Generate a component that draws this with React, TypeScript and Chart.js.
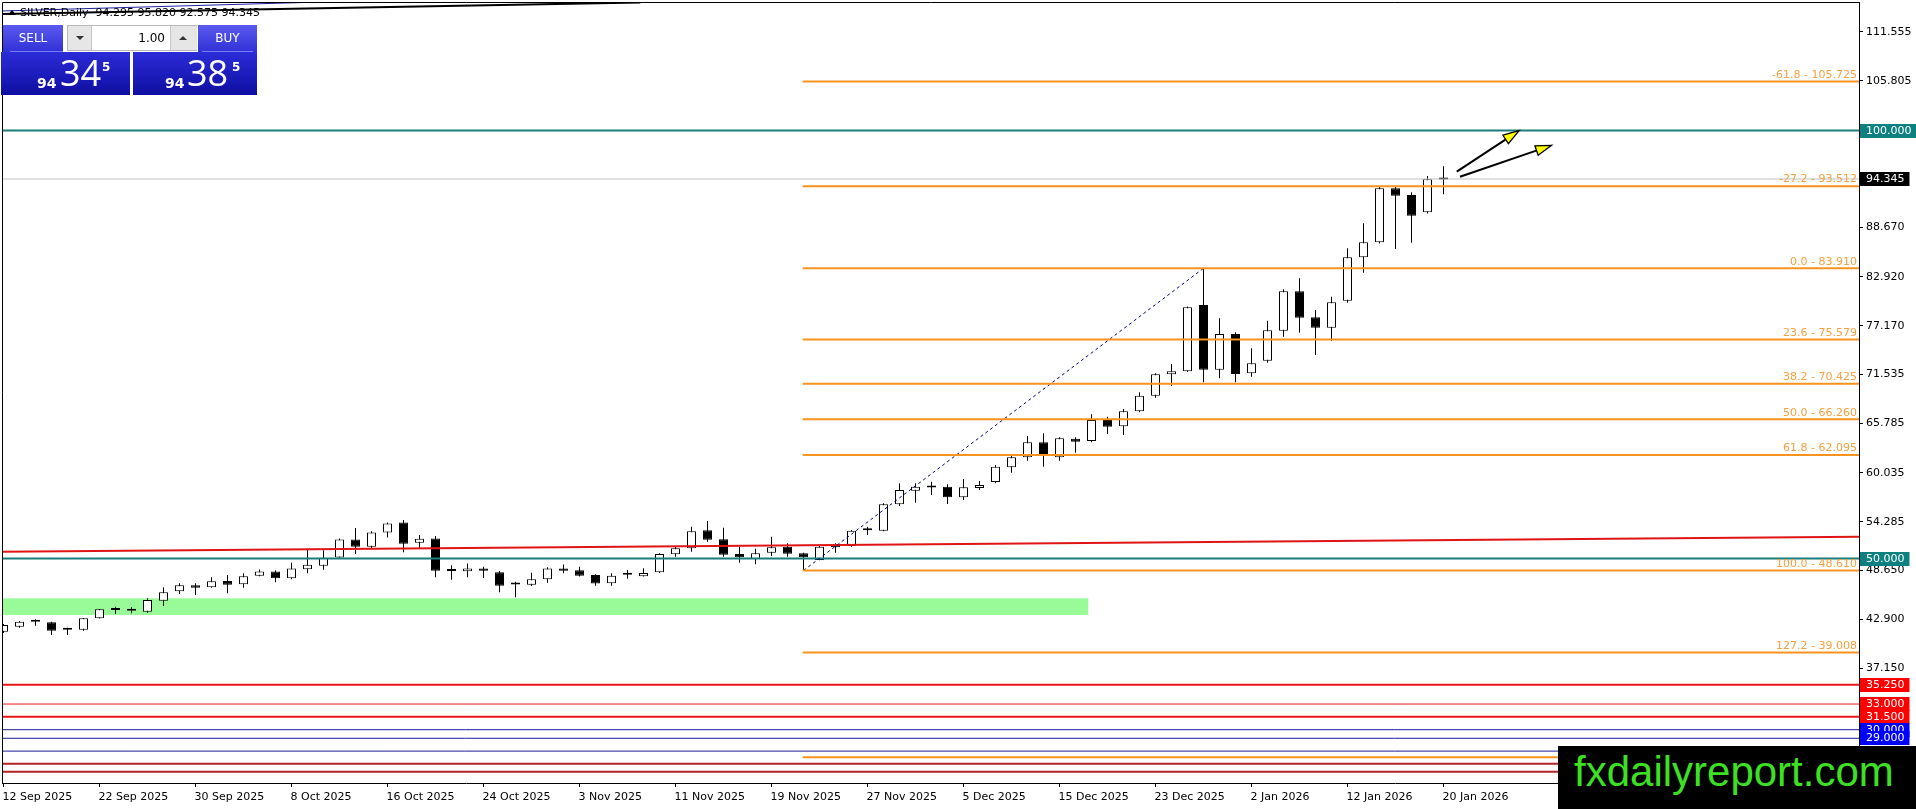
import React, { useEffect, useRef } from "react";
import { Chart, registerables } from "chart.js";

Chart.register(...registerables);

// ---------- data ----------
const OPEN = [
  41.45, 42.03, 42.6, 42.55, 41.7, 41.69, 43.02, 43.99, 43.9, 43.79,
  45.07, 46.17, 46.87, 46.64, 47.38, 46.99, 47.98, 48.48, 47.7, 48.75,
  49.15, 50.13, 52.23, 51.37, 53.05, 54.22, 51.84, 52.35, 48.58, 48.5,
  48.85, 48.39, 46.97, 46.95, 47.58, 48.85, 48.62, 48.08, 47.11, 48.1,
  47.92, 48.39, 50.49, 51.19, 53.3, 52.25, 50.53, 49.95, 50.68, 51.38,
  50.61, 49.83, 51.58, 51.47, 53.31, 53.25, 56.34, 57.92, 58.3, 58.39,
  57.15, 58.24, 58.94, 60.66, 61.83, 63.58, 61.83, 64.0, 63.73, 66.19,
  65.45, 67.2, 69.03, 71.53, 71.88, 79.62, 72.06, 76.23, 71.64, 73.11,
  76.62, 81.22, 78.19, 76.97, 80.13, 85.2, 86.95, 93.26, 92.47, 90.46,
  94.295,
];
const HIGH = [
  42.35, 42.7, 42.9, 42.6, 41.92, 43.05, 44.1, 44.37, 44.3, 45.35,
  46.64, 47.11, 47.11, 47.81, 48.08, 48.27, 48.71, 48.63, 49.5, 51.14,
  50.98, 52.35, 53.56, 53.2, 54.22, 54.49, 52.74, 52.62, 49.22, 49.43,
  49.04, 48.54, 47.29, 48.35, 48.97, 49.31, 49.04, 48.16, 48.27, 48.66,
  48.86, 50.61, 51.38, 53.72, 54.39, 53.61, 51.38, 51.14, 52.55, 51.78,
  50.68, 51.46, 51.78, 53.33, 53.72, 56.45, 58.79, 58.79, 58.98, 58.67,
  59.29, 59.06, 60.93, 61.98, 64.32, 64.63, 64.17, 64.17, 66.85, 66.57,
  67.47, 69.42, 71.64, 72.73, 79.45, 83.91, 78.07, 76.43, 74.56, 77.79,
  81.46, 82.74, 79.04, 80.59, 86.25, 89.17, 93.53, 93.53, 92.79, 94.7,
  95.82,
];
const LOW = [
  41.3, 41.92, 42.15, 41.07, 41.07, 41.57, 43.0, 43.52, 43.6, 43.67,
  44.45, 45.86, 45.74, 46.6, 45.94, 46.59, 47.92, 47.23, 47.58, 48.29,
  48.7, 50.1, 50.52, 51.18, 52.47, 50.72, 51.18, 47.8, 47.52, 47.8,
  47.72, 46.05, 45.47, 46.79, 47.18, 48.29, 47.9, 46.83, 46.83, 47.65,
  47.9, 48.3, 50.21, 50.79, 51.97, 50.21, 49.52, 49.33, 50.3, 50.21,
  48.61, 49.8, 50.68, 51.38, 52.75, 53.2, 56.14, 56.52, 57.42, 56.37,
  56.84, 58.01, 58.8, 60.03, 61.43, 60.73, 61.43, 62.37, 63.6, 64.55,
  64.44, 67.1, 68.79, 70.16, 71.8, 70.59, 71.06, 70.59, 71.24, 72.88,
  75.92, 76.39, 73.78, 75.45, 79.89, 83.4, 86.8, 86.17, 86.9, 90.3,
  92.575,
];
const CLOSE = [
  42.23, 42.62, 42.63, 41.57, 41.68, 43.02, 44.07, 44.01, 43.93, 45.16,
  46.05, 46.87, 46.59, 47.34, 46.95, 47.92, 48.48, 47.7, 48.83, 49.27,
  50.08, 52.23, 51.37, 53.05, 54.1, 51.72, 52.3, 48.56, 48.55, 48.85,
  48.56, 46.82, 46.99, 47.58, 48.85, 48.56, 47.99, 47.07, 47.99, 48.12,
  48.31, 50.53, 51.19, 53.18, 52.2, 50.45, 50.15, 50.61, 51.31, 50.56,
  50.15, 51.38, 51.31, 53.25, 53.35, 56.34, 58.01, 58.39, 58.33, 57.15,
  58.32, 58.59, 60.73, 61.83, 63.58, 61.98, 64.05, 63.65, 66.19, 65.4,
  67.2, 69.03, 71.53, 71.88, 79.35, 72.06, 76.23, 71.56, 72.81, 76.67,
  81.22, 78.14, 76.97, 79.94, 85.2, 86.95, 93.26, 92.39, 90.06, 94.31,
  94.345,
];

const DATE_TICKS = [0, 6, 12, 18, 24, 30, 36, 42, 48, 54, 60, 66, 72, 78, 84, 90];
const DATE_LABELS = [
  "12 Sep 2025", "22 Sep 2025", "30 Sep 2025", "8 Oct 2025", "16 Oct 2025",
  "24 Oct 2025", "3 Nov 2025", "11 Nov 2025", "19 Nov 2025", "27 Nov 2025",
  "5 Dec 2025", "15 Dec 2025", "23 Dec 2025", "2 Jan 2026", "12 Jan 2026",
  "20 Jan 2026",
];
const PRICE_TICKS = [
  111.555, 105.805, 88.67, 82.92, 77.17, 71.535, 65.785, 60.035, 54.285,
  48.65, 42.9, 37.15,
];

const BID_PRICE = 94.345;
const TEAL_LEVELS = [100, 50];
const FIB_LEVELS = [105.725, 93.512, 83.91, 75.579, 70.425, 66.26, 62.095, 48.61, 39.008, 26.795];
const FIB_TEXT = [
  "-61.8 - 105.725", "-27.2 - 93.512", "0.0 - 83.910", "23.6 - 75.579",
  "38.2 - 70.425", "50.0 - 66.260", "61.8 - 62.095", "100.0 - 48.610",
  "127.2 - 39.008", "161.8 - 26.795",
];
const FIB_LOW_BAR = 50;
const FIB_HIGH_BAR = 75;
const FIB_LOW = 48.61;
const FIB_HIGH = 83.91;
const RED_LEVELS = [35.25, 33.0, 31.5];
const BLUE_LEVELS = [30.0, 29.0, 27.5];
const BROWN_LEVELS = [26.03, 25.09];
const RED_TREND_BARS = [-0.22, 115.97];
const RED_TREND_PRICES = [50.8, 52.55];
const TOP_BLACK_BARS = [-0.22, 39.8];
const TOP_BLACK_PRICES = [113.62, 114.97];
const TOP_BLUE_BARS = [-0.22, 19.78];
const TOP_BLUE_PRICES = [113.97, 115.02];
const ZONE_BARS = [-1, 67.8];
const ZONE_PRICES = [43.4, 45.35];
const ARROW_FROM_BARS = [90.83, 91.03];
const ARROW_FROM_PRICES = [95.2, 94.6];
const ARROW_TO_BARS = [94.72, 96.76];
const ARROW_TO_PRICES = [100.0, 98.28];

// ---------- layout config ----------
const W = 1916;
const H = 809;
const X_MIN = -0.09375;
const X_MAX = 115.96875;
const Y_MIN = 23.774;
const Y_MAX = 115.025;
const FONT = '11px "DejaVu Sans", Verdana, sans-serif';

function drawArrow(ctx: CanvasRenderingContext2D, x1: number, y1: number, x2: number, y2: number) {
  const a = Math.atan2(y2 - y1, x2 - x1);
  const len = 16;
  const half = 5;
  const c = Math.cos(a);
  const s = Math.sin(a);
  const bx = x2 - len * c;
  const by = y2 - len * s;
  ctx.strokeStyle = "#000";
  ctx.lineWidth = 2;
  ctx.beginPath();
  ctx.moveTo(x1, y1);
  ctx.lineTo(bx + 2 * c, by + 2 * s);
  ctx.stroke();
  ctx.beginPath();
  ctx.moveTo(x2, y2);
  ctx.lineTo(bx + half * s, by - half * c);
  ctx.lineTo(bx - half * s, by + half * c);
  ctx.closePath();
  ctx.fillStyle = "#ffff00";
  ctx.fill();
  ctx.lineWidth = 1.3;
  ctx.stroke();
}

function axisBox(ctx: CanvasRenderingContext2D, ca: any, ys: any, v: number, text: string, bg: string) {
  const yy = ys.getPixelForValue(v);
  ctx.font = FONT;
  const tw = ctx.measureText(text).width;
  ctx.fillStyle = bg;
  ctx.fillRect(ca.right + 1, Math.round(yy) - 7, tw + 11, 14);
  ctx.fillStyle = "#fff";
  ctx.textAlign = "left";
  ctx.textBaseline = "middle";
  ctx.fillText(text, ca.right + 7, Math.round(yy));
}

const overlayPlugin = {
  id: "mt4overlay",
  beforeDatasetsDraw(chart: any) {
    const { ctx, chartArea: ca, scales } = chart;
    const xs = scales.x;
    const ys = scales.y;
    ctx.save();
    ctx.beginPath();
    ctx.rect(ca.left, ca.top, ca.right - ca.left, ca.bottom - ca.top);
    ctx.clip();
    const x0 = xs.getPixelForValue(ZONE_BARS[0]);
    const x1 = xs.getPixelForValue(ZONE_BARS[1]);
    const y0 = ys.getPixelForValue(ZONE_PRICES[1]);
    const y1 = ys.getPixelForValue(ZONE_PRICES[0]);
    ctx.fillStyle = "#98fb98";
    ctx.fillRect(x0, y0, x1 - x0, y1 - y0);
    ctx.restore();
  },
  afterDraw(chart: any) {
    const { ctx, chartArea: ca, scales } = chart;
    const xs = scales.x;
    const ys = scales.y;
    ctx.save();
    // frame (top + left)
    ctx.strokeStyle = "#000";
    ctx.lineWidth = 1;
    ctx.beginPath();
    ctx.moveTo(ca.left + 0.5, ca.bottom);
    ctx.lineTo(ca.left + 0.5, ca.top + 0.5);
    ctx.lineTo(ca.right, ca.top + 0.5);
    ctx.stroke();

    // arrows
    ctx.save();
    ctx.beginPath();
    ctx.rect(ca.left, ca.top, ca.right - ca.left, ca.bottom - ca.top);
    ctx.clip();
    for (let i = 0; i < ARROW_FROM_BARS.length; i++) {
      drawArrow(
        ctx,
        xs.getPixelForValue(ARROW_FROM_BARS[i]),
        ys.getPixelForValue(ARROW_FROM_PRICES[i]),
        xs.getPixelForValue(ARROW_TO_BARS[i]),
        ys.getPixelForValue(ARROW_TO_PRICES[i])
      );
    }
    ctx.restore();

    // fib labels
    ctx.font = FONT;
    ctx.fillStyle = "#f4a040";
    ctx.textAlign = "right";
    ctx.textBaseline = "middle";
    FIB_LEVELS.forEach((v, i) => {
      const yy = ys.getPixelForValue(v);
      if (yy < ca.top || yy > ca.bottom) return;
      ctx.fillText(FIB_TEXT[i], ca.right - 2, yy - 6.5);
    });

    // price axis labels
    ctx.fillStyle = "#000";
    ctx.textAlign = "left";
    PRICE_TICKS.forEach((v) => {
      ctx.fillText(v.toFixed(3), ca.right + 7, ys.getPixelForValue(v));
    });

    // date axis labels
    DATE_TICKS.forEach((b, i) => {
      ctx.fillText(DATE_LABELS[i], xs.getPixelForValue(b) - 1, ca.bottom + 14);
    });

    // axis boxes
    axisBox(ctx, ca, ys, TEAL_LEVELS[0], TEAL_LEVELS[0].toFixed(3), "#0e8080");
    axisBox(ctx, ca, ys, BID_PRICE, BID_PRICE.toFixed(3), "#000000");
    axisBox(ctx, ca, ys, TEAL_LEVELS[1], TEAL_LEVELS[1].toFixed(3), "#0e8080");
    RED_LEVELS.forEach((v) => axisBox(ctx, ca, ys, v, v.toFixed(3), "#ff0000"));
    BLUE_LEVELS.slice(0, 2).forEach((v) => axisBox(ctx, ca, ys, v, v.toFixed(3), "#0000ff"));
    ctx.restore();
  },
};

function seg(xa: number, ya: number, xb: number, yb: number, color: string, width: number, dash: number[] = []) {
  return {
    type: "line" as const,
    data: [
      { x: xa, y: ya },
      { x: xb, y: yb },
    ],
    borderColor: color,
    borderWidth: width,
    borderDash: dash,
    pointRadius: 0,
    pointHoverRadius: 0,
    fill: false,
    tension: 0,
    order: -1,
  };
}

export default function App() {
  const ref = useRef<HTMLCanvasElement>(null);

  useEffect(() => {
    const canvas = ref.current;
    if (!canvas) return;
    Chart.defaults.font.family = '"DejaVu Sans", Verdana, sans-serif';
    Chart.defaults.font.size = 11;

    const idx = OPEN.map((_, i) => i);
    const bodies = idx.map((i) => ({ x: i, y: [OPEN[i], CLOSE[i]] }));
    const wicks = idx.map((i) => ({ x: i, y: [LOW[i], HIGH[i]] }));
    const bodyColors = idx.map((i) => (CLOSE[i] >= OPEN[i] ? "#ffffff" : "#000000"));

    const lines: any[] = [];
    lines.push(seg(TOP_BLACK_BARS[0], TOP_BLACK_PRICES[0], TOP_BLACK_BARS[1], TOP_BLACK_PRICES[1], "#000000", 2));
    lines.push(seg(TOP_BLUE_BARS[0], TOP_BLUE_PRICES[0], TOP_BLUE_BARS[1], TOP_BLUE_PRICES[1], "#2020a0", 1));
    FIB_LEVELS.forEach((v) => lines.push(seg(FIB_LOW_BAR - 0.05, v, X_MAX, v, "#f7931e", 2)));
    lines.push(seg(FIB_LOW_BAR, FIB_LOW, FIB_HIGH_BAR, FIB_HIGH, "#00008b", 1, [3, 3]));
    lines.push(seg(X_MIN - 1, BID_PRICE, X_MAX, BID_PRICE, "#c0c0c0", 1));
    TEAL_LEVELS.forEach((v) => lines.push(seg(X_MIN - 1, v, X_MAX, v, "#1b7c7c", 2)));
    lines.push(seg(RED_TREND_BARS[0], RED_TREND_PRICES[0], RED_TREND_BARS[1], RED_TREND_PRICES[1], "#e01414", 2));
    RED_LEVELS.forEach((v, i) => lines.push(seg(X_MIN - 1, v, X_MAX, v, "#e81616", i === 1 ? 1 : 2)));
    BLUE_LEVELS.forEach((v) => lines.push(seg(X_MIN - 1, v, X_MAX, v, "#1a1a9c", 1)));
    BROWN_LEVELS.forEach((v) => lines.push(seg(X_MIN - 1, v, X_MAX, v, "#b22222", 2)));

    const chart = new Chart(canvas, {
      type: "bar",
      data: {
        datasets: [
          {
            type: "bar",
            data: bodies as any,
            backgroundColor: bodyColors,
            borderColor: "#000000",
            borderWidth: 1,
            borderSkipped: false,
            barThickness: 9,
            grouped: false,
            minBarLength: 2,
            inflateAmount: 0,
            order: 0,
          } as any,
          {
            type: "bar",
            data: wicks as any,
            backgroundColor: "#000000",
            borderWidth: 0,
            barThickness: 1,
            grouped: false,
            inflateAmount: 0,
            order: 1,
          } as any,
          ...lines,
        ],
      },
      options: {
        animation: false,
        responsive: false,
        maintainAspectRatio: false,
        events: [],
        layout: { padding: { left: 2, top: 2, right: 0, bottom: 0 } },
        plugins: {
          legend: { display: false },
          tooltip: { enabled: false },
        },
        scales: {
          x: {
            type: "linear",
            min: X_MIN,
            max: X_MAX,
            offset: false,
            position: "bottom",
            afterBuildTicks: (s: any) => {
              s.ticks = DATE_TICKS.map((v) => ({ value: v }));
            },
            afterFit: (s: any) => {
              s.height = 26;
            },
            ticks: { display: false },
            grid: {
              display: true,
              drawOnChartArea: false,
              drawTicks: true,
              tickLength: 4,
              tickColor: "#000",
              offset: false,
            },
            border: { display: true, color: "#000", width: 1 },
          },
          y: {
            type: "linear",
            min: Y_MIN,
            max: Y_MAX,
            position: "right",
            afterBuildTicks: (s: any) => {
              s.ticks = PRICE_TICKS.map((v) => ({ value: v }));
            },
            afterFit: (s: any) => {
              s.width = 57;
            },
            ticks: { display: false },
            grid: {
              display: true,
              drawOnChartArea: false,
              drawTicks: true,
              tickLength: 4,
              tickColor: "#000",
            },
            border: { display: true, color: "#000", width: 1 },
          },
        },
      } as any,
      plugins: [overlayPlugin as any],
    });
    return () => chart.destroy();
  }, []);

  const btnGrad = "linear-gradient(#5b5bf0, #3030d6)";
  const boxGrad = "linear-gradient(#2c2cd8, #0e0ea2)";
  const abs = (o: any) => ({ position: "absolute" as const, ...o });

  return (
    <div style={abs({ left: 0, top: 0, width: W, height: H, overflow: "hidden", background: "#fff" })}>
      <canvas ref={ref} width={W} height={H} style={{ width: W, height: H, display: "block" }} />

      {/* header */}
      <div
        style={abs({
          left: 8,
          top: 10,
          width: 0,
          height: 0,
          borderLeft: "4px solid transparent",
          borderRight: "4px solid transparent",
          borderBottom: "5px solid #000",
        })}
      />
      <div style={abs({ left: 20, top: 6, font: FONT, lineHeight: "14px", color: "#000", whiteSpace: "nowrap" })}>
        SILVER,Daily&nbsp; 94.295 95.820 92.575 94.345
      </div>

      {/* trade panel */}
      <div
        style={abs({
          left: 3, top: 25, width: 60, height: 27, background: btnGrad, color: "#fff",
          font: '12px "DejaVu Sans", sans-serif', lineHeight: "27px", textAlign: "center",
        })}
      >
        SELL
      </div>
      <div style={abs({ left: 67, top: 25, width: 130, height: 26, background: "#fff", border: "1px solid #b8b8b8", boxSizing: "border-box" })} />
      <div style={abs({ left: 68, top: 26, width: 23, height: 24, background: "#e6e6e6", borderRight: "1px solid #c8c8c8" })} />
      <div style={abs({ left: 76, top: 36, width: 0, height: 0, borderLeft: "4px solid transparent", borderRight: "4px solid transparent", borderTop: "4px solid #333" })} />
      <div style={abs({ left: 170, top: 26, width: 26, height: 24, background: "#e6e6e6", borderLeft: "1px solid #c8c8c8" })} />
      <div style={abs({ left: 179, top: 36, width: 0, height: 0, borderLeft: "4px solid transparent", borderRight: "4px solid transparent", borderBottom: "4px solid #333" })} />
      <div style={abs({ left: 92, top: 26, width: 73, height: 24, font: '12px "DejaVu Sans", sans-serif', lineHeight: "24px", textAlign: "right", color: "#000" })}>
        1.00
      </div>
      <div
        style={abs({
          left: 198, top: 25, width: 59, height: 27, background: btnGrad, color: "#fff",
          font: '12px "DejaVu Sans", sans-serif', lineHeight: "27px", textAlign: "center",
        })}
      >
        BUY
      </div>

      <div style={abs({ left: 1, top: 52, width: 129, height: 43, background: boxGrad })} />
      <div style={abs({ left: 133, top: 52, width: 124, height: 43, background: boxGrad })} />
      <div style={abs({ left: 10, top: 51, width: 53, height: 1, background: "#7a7af5" })} />
      <div style={abs({ left: 202, top: 51, width: 51, height: 1, background: "#7a7af5" })} />

      <div style={abs({ left: 37, top: 75.5, font: 'bold 14px "DejaVu Sans", sans-serif', lineHeight: 1, color: "#fff" })}>94</div>
      <div style={abs({ left: 60, top: 55.3, font: '36px "Open Sans", sans-serif', lineHeight: 1, color: "#fff" })}>34</div>
      <div style={abs({ left: 102, top: 60.5, font: 'bold 12px "DejaVu Sans", sans-serif', lineHeight: 1, color: "#fff" })}>5</div>

      <div style={abs({ left: 165, top: 75.5, font: 'bold 14px "DejaVu Sans", sans-serif', lineHeight: 1, color: "#fff" })}>94</div>
      <div style={abs({ left: 187, top: 55.3, font: '36px "Open Sans", sans-serif', lineHeight: 1, color: "#fff" })}>38</div>
      <div style={abs({ left: 232, top: 60.5, font: 'bold 12px "DejaVu Sans", sans-serif', lineHeight: 1, color: "#fff" })}>5</div>

      {/* watermark */}
      <div style={abs({ left: 1558, top: 746, width: 358, height: 63, background: "#000", overflow: "hidden" })}>
        <div style={abs({ left: 16, top: 5, font: '42px "Liberation Sans", Arial, sans-serif', lineHeight: 1, color: "#3ee024", whiteSpace: "nowrap" })}>
          fxdailyreport.com
        </div>
      </div>
    </div>
  );
}
